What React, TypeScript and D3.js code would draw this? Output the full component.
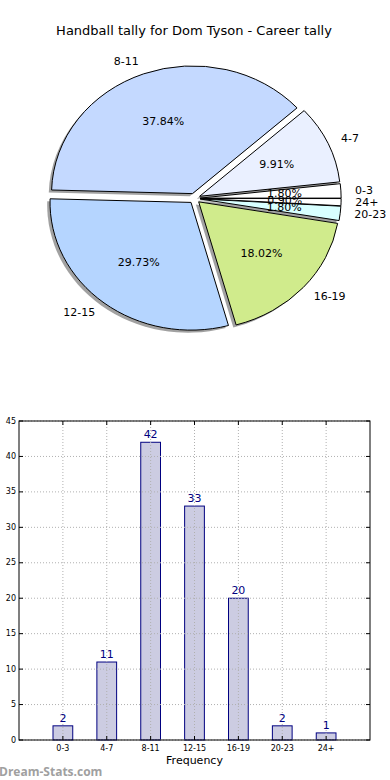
import * as d3 from "d3";

const categories = ["0-3", "4-7", "8-11", "12-15", "16-19", "20-23", "24+"];
const counts = [2, 11, 42, 33, 20, 2, 1];
const sliceColors = ["#ffffff", "#eaf0ff", "#c4d9ff", "#b5d5ff", "#d0eb8c", "#d8ffff", "#ffffff"];
const yTicks = [0, 5, 10, 15, 20, 25, 30, 35, 40, 45];

const W = 390;
const H = 780;
const FONT = "DejaVu Sans, sans-serif";

// pie geometry (the source pie is squashed into an ellipse)
const PIE = { cx: 194.5, cy: 198.4, rx: 141, ry: 127.7, explode: 0.04 };

// bar chart frame
const BAR = { left: 19, right: 370, top: 421, bottom: 740 };

const total = d3.sum(counts);

const Pie = () => {
  const pie = d3
    .pie<number>()
    .sort(null)
    .value((d) => d)
    .startAngle(Math.PI / 2)
    .endAngle(Math.PI / 2 - 2 * Math.PI);
  const arcs = pie(counts);
  const k = PIE.ry / PIE.rx;
  const arcGen = d3.arc<d3.PieArcDatum<number>>().innerRadius(0).outerRadius(PIE.rx);

  const items = arcs.map((a, i) => {
    // d3 angle -> math angle (ccw from 3 o'clock)
    const mid = Math.PI / 2 - (a.startAngle + a.endAngle) / 2;
    const c = Math.cos(mid);
    const s = Math.sin(mid);
    const ox = PIE.explode * PIE.rx * c;
    const oy = -PIE.explode * PIE.ry * s;
    const px = PIE.cx + ox;
    const py = PIE.cy + oy;
    return { a, i, c, s, px, py };
  });

  return (
    <g>
      {items.map(({ a, i, px, py }) => (
        <path
          key={"sh" + i}
          d={arcGen(a)!}
          transform={`translate(${px - 0.02 * PIE.rx},${py + 0.02 * PIE.ry}) scale(1,${k})`}
          fill="#444"
          opacity={0.5}
        />
      ))}
      {items.map(({ a, i, px, py }) => (
        <path
          key={"w" + i}
          d={arcGen(a)!}
          transform={`translate(${px},${py}) scale(1,${k})`}
          fill={sliceColors[i]}
          stroke="#000"
          strokeWidth={1}
          vectorEffect="non-scaling-stroke"
        />
      ))}
      {items.map(({ i, c, s, px, py }) => (
        <text
          key={"p" + i}
          x={px + 0.6 * PIE.rx * c}
          y={py - 0.6 * PIE.ry * s}
          textAnchor="middle"
          dominantBaseline="central"
          fontSize={11}
          fontFamily={FONT}
          fill="#000"
        >
          {((counts[i] / total) * 100).toFixed(2) + "%"}
        </text>
      ))}
      {items.map(({ i, c, s, px, py }) => (
        <text
          key={"l" + i}
          x={px + 1.1 * PIE.rx * c}
          y={py - 1.1 * PIE.ry * s}
          textAnchor={c > 0 ? "start" : "end"}
          dominantBaseline="central"
          fontSize={11}
          fontFamily={FONT}
          fill="#000"
        >
          {categories[i]}
        </text>
      ))}
    </g>
  );
};

const Bars = () => {
  const x = d3.scaleLinear().domain([-1, 7]).range([BAR.left, BAR.right]);
  const y = d3.scaleLinear().domain([0, 45]).range([BAR.bottom, BAR.top]);
  const bw = (x(1) - x(0)) * 0.45;

  return (
    <g>
      {counts.map((v, i) => (
        <rect
          key={i}
          x={x(i) - bw / 2}
          y={y(v)}
          width={bw}
          height={y(0) - y(v)}
          fill="#cccce2"
          stroke="#000080"
          strokeWidth={1}
        />
      ))}
      {yTicks.map((t) => (
        <line
          key={"gy" + t}
          x1={BAR.left}
          x2={BAR.right}
          y1={y(t)}
          y2={y(t)}
          stroke="#b0b0b0"
          strokeDasharray="1,2"
        />
      ))}
      {categories.map((c, i) => (
        <line
          key={"gx" + c}
          x1={x(i)}
          x2={x(i)}
          y1={BAR.top}
          y2={BAR.bottom}
          stroke="#b0b0b0"
          strokeDasharray="1,2"
        />
      ))}
      {counts.map((v, i) => (
        <text
          key={"v" + i}
          x={x(i)}
          y={y(v) - 4}
          textAnchor="middle"
          fontSize={11}
          fontFamily={FONT}
          fill="#000080"
        >
          {v}
        </text>
      ))}
      <rect
        x={BAR.left}
        y={BAR.top}
        width={BAR.right - BAR.left}
        height={BAR.bottom - BAR.top}
        fill="none"
        stroke="#000"
        strokeWidth={1}
      />
      {yTicks.map((t) => (
        <g key={"ty" + t}>
          <line x1={BAR.left} x2={BAR.left + 4} y1={y(t)} y2={y(t)} stroke="#000" />
          <line x1={BAR.right - 4} x2={BAR.right} y1={y(t)} y2={y(t)} stroke="#000" />
          <text
            x={BAR.left - 3}
            y={y(t)}
            textAnchor="end"
            dominantBaseline="central"
            fontSize={8}
            fontFamily={FONT}
            fill="#000"
          >
            {t}
          </text>
        </g>
      ))}
      {categories.map((c, i) => (
        <g key={"tx" + c}>
          <line x1={x(i)} x2={x(i)} y1={BAR.bottom} y2={BAR.bottom - 4} stroke="#000" />
          <line x1={x(i)} x2={x(i)} y1={BAR.top} y2={BAR.top + 4} stroke="#000" />
          <text
            x={x(i)}
            y={BAR.bottom + 8}
            textAnchor="middle"
            dominantBaseline="central"
            fontSize={8}
            fontFamily={FONT}
            fill="#000"
          >
            {c}
          </text>
        </g>
      ))}
      <text
        x={(BAR.left + BAR.right) / 2}
        y={BAR.bottom + 20}
        textAnchor="middle"
        dominantBaseline="central"
        fontSize={11}
        fontFamily={FONT}
        fill="#000"
      >
        Frequency
      </text>
    </g>
  );
};

export default function App() {
  return (
    <svg
      width={W}
      height={H}
      style={{ position: "absolute", left: 0, top: 0, background: "#fff" }}
    >
      <rect width={W} height={H} fill="#fff" />
      <text
        x={194}
        y={30}
        textAnchor="middle"
        dominantBaseline="central"
        fontSize={13}
        fontFamily={FONT}
        fill="#000"
      >
        Handball tally for Dom Tyson - Career tally
      </text>
      <Pie />
      <Bars />
      <text
        x={-1}
        y={771}
        dominantBaseline="central"
        fontSize={12}
        fontWeight="bold"
        fontFamily="Open Sans, sans-serif"
        fill="#a0a0a0"
      >
        Dream-Stats.com
      </text>
    </svg>
  );
}
